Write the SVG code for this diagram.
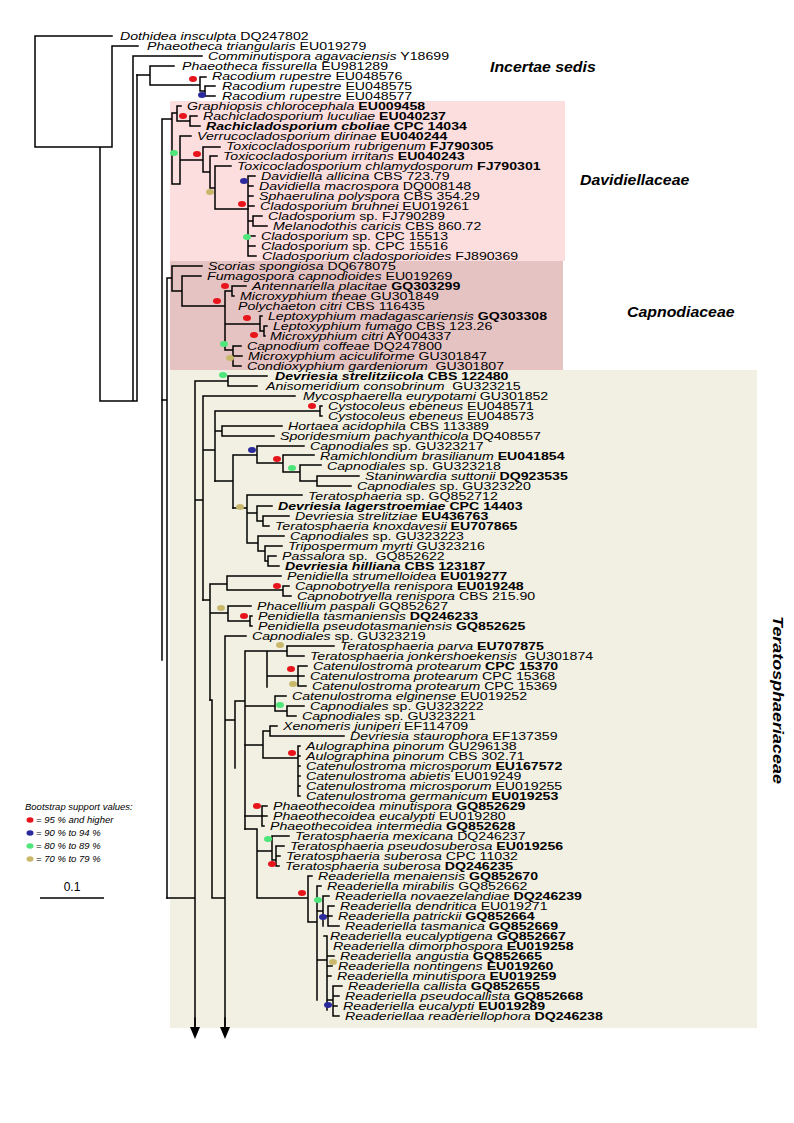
<svg xmlns="http://www.w3.org/2000/svg" width="794" height="1123" viewBox="0 0 794 1123">
<style>
.bg{fill:#ffffff}
.tr{fill:none;stroke:#000;stroke-width:1.5;stroke-linecap:square}
.lab text{font-family:"Liberation Sans",Arial,sans-serif;font-size:11.8px;fill:#000}
.i{font-style:italic}
.b{font-weight:bold}
.fam{font-family:"Liberation Sans",Arial,sans-serif;font-size:13.8px;font-weight:bold;font-style:italic;fill:#000}
.leg{font-family:"Liberation Sans",Arial,sans-serif;font-size:9.5px;font-style:italic;fill:#000}
.r{fill:#e8141c}.bl{fill:#2a2a9c}.g{fill:#4ee67a}.y{fill:#c9b86c}
</style>
<defs>
<marker id="ah" viewBox="0 0 12 10" refX="0" refY="5" markerWidth="12" markerHeight="10" markerUnits="userSpaceOnUse" orient="auto">
<path d="M0,0 L12,5 L0,10 Z" fill="#000"/>
</marker>
</defs>
<rect class="bg" x="0" y="0" width="794" height="1123"/>
<g id="boxes">
<rect id="box-davidiellaceae" x="170" y="101" width="395" height="160" fill="#fcdede"/>
<rect id="box-capnodiaceae" x="170" y="261" width="393" height="109" fill="#e6c3c3"/>
<rect id="box-teratosphaeriaceae" x="170" y="370" width="587" height="658" fill="#f2f0e2"/>
</g>
<g id="connectors" class="tr">
<path d="M35 36V147H112M35 36H112M112 46V147M112 46H138M100 147V401H137M133 56V401M137 75V401M133 56H202"/>
<path d="M137 75H150M150 66V85M150 66H174M150 85H200M200 77V91M200 77H206M200 91H205M205 86V96M205 86H215M205 96H215"/>
<path d="M162 119V660M162 119H172M172 113V184M172 113H177M177 106V121M177 106H181M177 121H190M190 116V126M190 116H197M190 126H200M172 184H180M180 136V184M180 136H191M180 160H203M203 147V172M203 147H220M203 172H210M210 156V188M210 156H217M210 188H215M215 166V209M215 166H231M215 209H248"/>
<path d="M248 176V256M248 176H255M248 186H253M248 196H253M248 206H254M248 221H253M253 216V226M253 216H262M253 226H267M248 236H255M248 246H255M248 256H256"/>
<path d="M167 278V898M162 400H167M167 278H172M172 266V291M172 266H202M172 291H182M182 276V306M182 276H201M182 306H225M225 291V350M225 291H232M232 286V296M232 286H246M232 296H234M225 324H260M260 316V331M260 316H262M260 331H264M264 326V336M264 326H267M264 336H265M225 350H233M233 346V366M233 346H241M233 356H242M233 366H241"/>
<path d="M167 898H195M195 381V1026M195 381H228M228 376V386M228 376H267M228 386H257M195 500H203M203 396V600M203 396H295M203 450H215M215 411V481M215 411H320M320 406V416M320 406H322M320 416H322M215 431H222M222 426V436M222 426H282M222 436H274"/>
<path d="M215 481H233M233 455V508M233 455H257M257 446V463M257 446H304M257 463H283M283 455V472M283 455H314M283 472H300M300 465V481M300 465H321M300 481H317M317 476V486M317 476H359M317 486H351"/>
<path d="M233 508H247M247 495V543M247 495H302M247 513H257M257 506V521M257 506H272M257 521H263M263 516V526M263 516H289M263 526H269M247 543H258M258 536V551M258 536H284M258 551H265M265 546V561M265 546H282M265 561H268M268 556V566M268 556H276M268 566H279"/>
<path d="M203 600H210M210 584V700M210 584H227M227 576V590M227 576H281M227 590H283M283 586V596M283 586H289M283 596H291M210 613H228M228 606V621M228 606H251M228 621H250M250 616V626M250 616H252M250 626H252"/>
<path d="M212 700V898M210 700H212M212 898H225M225 636V1026M225 636H246M225 720H235M235 701V768M235 701H245M245 651V829M245 651H267M267 651V687M267 651H287M287 646V656M287 646H334M287 656H304M267 676H298M298 666V686M298 666H307M298 676H304M298 686H306M245 706H275M275 696V711M275 696H286M275 711H287M287 706V716M287 706H304M287 716H296"/>
<path d="M245 745H263M263 731V758M263 731H270M270 726V736M270 726H277M270 736H344M263 758H298M298 746V796M298 746H300M298 756H300M298 766H300M298 776H300M298 786H300M298 796H300M245 816H262M262 806V826M262 806H267M262 816H267M262 826H264"/>
<path d="M245 829H257M257 829V898M257 851H272M272 836V860M272 836H289M272 860H276M276 846V866M276 846H284M276 856H280M276 866H279M257 898H308M308 876V922M308 876H312M308 922H317M317 886V1000M317 886H321M317 911H323M323 896V926M323 896H329M323 916H328M328 906V926M328 906H334M328 916H332M328 926H339M317 960H327M327 936V1010M327 936H324M327 946H327M327 956H334M327 966H332M327 976H331M327 1000H333M333 986V1016M333 986H342M333 996H339M333 1006H337M333 1016H339"/>
<path d="M195 1018V1027" marker-end="url(#ah)"/>
<path d="M225 1018V1027" marker-end="url(#ah)"/>
</g>
<g id="support">
<ellipse class="r" cx="193" cy="79" rx="4" ry="3"/>
<ellipse class="bl" cx="202" cy="95" rx="4" ry="3"/>
<ellipse class="r" cx="183" cy="116" rx="4" ry="3"/>
<ellipse class="g" cx="174" cy="153" rx="4" ry="3"/>
<ellipse class="r" cx="197" cy="154" rx="4" ry="3"/>
<ellipse class="bl" cx="244" cy="181" rx="4" ry="3"/>
<ellipse class="y" cx="210" cy="192" rx="4" ry="3"/>
<ellipse class="r" cx="242" cy="204" rx="4" ry="3"/>
<ellipse class="g" cx="247" cy="237" rx="4" ry="3"/>
<ellipse class="r" cx="225" cy="286" rx="4" ry="3"/>
<ellipse class="r" cx="217" cy="301" rx="4" ry="3"/>
<ellipse class="r" cx="247" cy="318" rx="4" ry="3"/>
<ellipse class="r" cx="254" cy="335" rx="4" ry="3"/>
<ellipse class="g" cx="224" cy="344" rx="4" ry="3"/>
<ellipse class="y" cx="230" cy="358" rx="4" ry="3"/>
<ellipse class="g" cx="223" cy="375" rx="4" ry="3"/>
<ellipse class="r" cx="312" cy="406" rx="4" ry="3"/>
<ellipse class="bl" cx="252" cy="450" rx="4" ry="3"/>
<ellipse class="r" cx="277" cy="459" rx="4" ry="3"/>
<ellipse class="g" cx="292" cy="468" rx="4" ry="3"/>
<ellipse class="y" cx="240" cy="507" rx="4" ry="3"/>
<ellipse class="r" cx="277" cy="586" rx="4" ry="3"/>
<ellipse class="y" cx="221" cy="608" rx="4" ry="3"/>
<ellipse class="r" cx="244" cy="616" rx="4" ry="3"/>
<ellipse class="y" cx="280" cy="645" rx="4" ry="3"/>
<ellipse class="r" cx="291" cy="669" rx="4" ry="3"/>
<ellipse class="y" cx="293" cy="684" rx="4" ry="3"/>
<ellipse class="g" cx="280" cy="705" rx="4" ry="3"/>
<ellipse class="r" cx="292" cy="753" rx="4" ry="3"/>
<ellipse class="r" cx="257" cy="806" rx="4" ry="3"/>
<ellipse class="g" cx="268" cy="839" rx="4" ry="3"/>
<ellipse class="r" cx="272" cy="864" rx="4" ry="3"/>
<ellipse class="r" cx="302" cy="893" rx="4" ry="3"/>
<ellipse class="g" cx="318" cy="900" rx="4" ry="3"/>
<ellipse class="bl" cx="323" cy="917" rx="4" ry="3"/>
<ellipse class="y" cx="333" cy="962" rx="4" ry="3"/>
<ellipse class="bl" cx="328" cy="1005" rx="4" ry="3"/>
</g>
<g id="leaves" class="lab" transform="scale(1.2,1)">
<text x="100" y="40"><tspan class="i">Dothidea insculpta</tspan> DQ247802</text>
<text x="122.5" y="50"><tspan class="i">Phaeotheca triangularis</tspan> EU019279</text>
<text x="173.3" y="60"><tspan class="i">Comminutispora agavaciensis</tspan> Y18699</text>
<text x="151.7" y="70"><tspan class="i">Phaeotheca fissurella</tspan> EU981289</text>
<text x="176.7" y="80"><tspan class="i">Racodium rupestre</tspan> EU048576</text>
<text x="185" y="90"><tspan class="i">Racodium rupestre</tspan> EU048575</text>
<text x="185" y="100"><tspan class="i">Racodium rupestre</tspan> EU048577</text>
<text x="155.8" y="110"><tspan class="i">Graphiopsis chlorocephala</tspan> <tspan class="b">EU009458</tspan></text>
<text x="169.2" y="120"><tspan class="i">Rachicladosporium luculiae</tspan> <tspan class="b">EU040237</tspan></text>
<text x="171.7" y="130" class="b"><tspan class="i">Rachicladosporium cboliae</tspan> CPC 14034</text>
<text x="164.2" y="140"><tspan class="i">Verrucocladosporium dirinae</tspan> <tspan class="b">EU040244</tspan></text>
<text x="188.3" y="150"><tspan class="i">Toxicocladosporium rubrigenum</tspan> <tspan class="b">FJ790305</tspan></text>
<text x="185.8" y="160"><tspan class="i">Toxicocladosporium irritans</tspan> <tspan class="b">EU040243</tspan></text>
<text x="197.5" y="170"><tspan class="i">Toxicocladosporium chlamydosporum</tspan> <tspan class="b">FJ790301</tspan></text>
<text x="217.5" y="180"><tspan class="i">Davidiella allicina</tspan> CBS 723.79</text>
<text x="215.8" y="190"><tspan class="i">Davidiella macrospora</tspan> DQ008148</text>
<text x="215.8" y="200"><tspan class="i">Sphaerulina polyspora</tspan> CBS 354.29</text>
<text x="216.7" y="210"><tspan class="i">Cladosporium bruhnei</tspan> EU019261</text>
<text x="223.3" y="220"><tspan class="i">Cladosporium</tspan> sp. FJ790289</text>
<text x="227.5" y="230"><tspan class="i">Melanodothis caricis</tspan> CBS 860.72</text>
<text x="217.5" y="240"><tspan class="i">Cladosporium</tspan> sp. CPC 15513</text>
<text x="217.5" y="250"><tspan class="i">Cladosporium</tspan> sp. CPC 15516</text>
<text x="218.3" y="260"><tspan class="i">Cladosporium cladosporioides</tspan> FJ890369</text>
<text x="173.3" y="270"><tspan class="i">Scorias spongiosa</tspan> DQ678075</text>
<text x="172.5" y="280"><tspan class="i">Fumagospora capnodioides</tspan> EU019269</text>
<text x="210" y="290"><tspan class="i">Antennariella placitae</tspan> <tspan class="b">GQ303299</tspan></text>
<text x="200" y="300"><tspan class="i">Microxyphium theae</tspan> GU301849</text>
<text x="198.3" y="310"><tspan class="i">Polychaeton citri</tspan> CBS 116435</text>
<text x="223.3" y="320"><tspan class="i">Leptoxyphium madagascariensis</tspan> <tspan class="b">GQ303308</tspan></text>
<text x="227.5" y="330"><tspan class="i">Leptoxyphium fumago</tspan> CBS 123.26</text>
<text x="225" y="340"><tspan class="i">Microxyphium citri</tspan> AY004337</text>
<text x="205.8" y="350"><tspan class="i">Capnodium coffeae</tspan> DQ247800</text>
<text x="206.7" y="360"><tspan class="i">Microxyphium aciculiforme</tspan> GU301847</text>
<text x="205.8" y="370" xml:space="preserve"><tspan class="i">Condioxyphium gardeniorum</tspan>  GU301807</text>
<text x="229.2" y="380" class="b"><tspan class="i">Devriesia strelitziicola</tspan> CBS 122480</text>
<text x="221.7" y="390" xml:space="preserve"><tspan class="i">Anisomeridium consobrinum</tspan>  GU323215</text>
<text x="252.5" y="400"><tspan class="i">Mycosphaerella eurypotami</tspan> GU301852</text>
<text x="273.3" y="410"><tspan class="i">Cystocoleus ebeneus</tspan> EU048571</text>
<text x="273.3" y="420"><tspan class="i">Cystocoleus ebeneus</tspan> EU048573</text>
<text x="240" y="430"><tspan class="i">Hortaea acidophila</tspan> CBS 113389</text>
<text x="233.3" y="440"><tspan class="i">Sporidesmium pachyanthicola</tspan> DQ408557</text>
<text x="258.3" y="450"><tspan class="i">Capnodiales</tspan> sp. GU323217</text>
<text x="266.7" y="460"><tspan class="i">Ramichlondium brasilianum</tspan> <tspan class="b">EU041854</tspan></text>
<text x="272.5" y="470"><tspan class="i">Capnodiales</tspan> sp. GU323218</text>
<text x="304.2" y="480"><tspan class="i">Staninwardia suttonii</tspan> <tspan class="b">DQ923535</tspan></text>
<text x="297.5" y="490"><tspan class="i">Capnodiales</tspan> sp. GU323220</text>
<text x="256.7" y="500"><tspan class="i">Teratosphaeria</tspan> sp. GQ852712</text>
<text x="231.7" y="510" class="b"><tspan class="i">Devriesia lagerstroemiae</tspan> CPC 14403</text>
<text x="245.8" y="520"><tspan class="i">Devriesia strelitziae</tspan> <tspan class="b">EU436763</tspan></text>
<text x="229.2" y="530"><tspan class="i">Teratosphaeria knoxdavesii</tspan> <tspan class="b">EU707865</tspan></text>
<text x="241.7" y="540"><tspan class="i">Capnodiales</tspan> sp. GU323223</text>
<text x="240" y="550"><tspan class="i">Tripospermum myrti</tspan> GU323216</text>
<text x="235" y="560" xml:space="preserve"><tspan class="i">Passalora</tspan> sp.  GQ852622</text>
<text x="237.5" y="570" class="b"><tspan class="i">Devriesia hilliana</tspan> CBS 123187</text>
<text x="239.2" y="580"><tspan class="i">Penidiella strumelloidea</tspan> <tspan class="b">EU019277</tspan></text>
<text x="245.8" y="590"><tspan class="i">Capnobotryella renispora</tspan> <tspan class="b">EU019248</tspan></text>
<text x="247.5" y="600"><tspan class="i">Capnobotryella renispora</tspan> CBS 215.90</text>
<text x="214.2" y="610"><tspan class="i">Phacellium paspali</tspan> GQ852627</text>
<text x="215" y="620"><tspan class="i">Penidiella tasmaniensis</tspan> <tspan class="b">DQ246233</tspan></text>
<text x="215" y="630"><tspan class="i">Penidiella pseudotasmaniensis</tspan> <tspan class="b">GQ852625</tspan></text>
<text x="210" y="640"><tspan class="i">Capnodiales</tspan> sp. GU323219</text>
<text x="283.3" y="650"><tspan class="i">Teratosphaeria parva</tspan> <tspan class="b">EU707875</tspan></text>
<text x="258.3" y="660" xml:space="preserve"><tspan class="i">Teratosphaeria jonkershoekensis</tspan>  GU301874</text>
<text x="260.8" y="670"><tspan class="i">Catenulostroma protearum</tspan> <tspan class="b">CPC 15370</tspan></text>
<text x="258.3" y="680"><tspan class="i">Catenulostroma protearum</tspan> CPC 15368</text>
<text x="260" y="690"><tspan class="i">Catenulostroma protearum</tspan> CPC 15369</text>
<text x="243.3" y="700"><tspan class="i">Catenulostroma elginense</tspan> EU019252</text>
<text x="258.3" y="710"><tspan class="i">Capnodiales</tspan> sp. GU323222</text>
<text x="251.7" y="720"><tspan class="i">Capnodiales</tspan> sp. GU323221</text>
<text x="235.8" y="730"><tspan class="i">Xenomeris juniperi</tspan> EF114709</text>
<text x="291.7" y="740"><tspan class="i">Devriesia staurophora</tspan> EF137359</text>
<text x="255" y="750"><tspan class="i">Aulographina pinorum</tspan> GU296138</text>
<text x="255" y="760"><tspan class="i">Aulographina pinorum</tspan> CBS 302.71</text>
<text x="255" y="770"><tspan class="i">Catenulostroma microsporum</tspan> <tspan class="b">EU167572</tspan></text>
<text x="255" y="780"><tspan class="i">Catenulostroma abietis</tspan> EU019249</text>
<text x="255" y="790"><tspan class="i">Catenulostroma microsporum</tspan> EU019255</text>
<text x="255" y="800"><tspan class="i">Catenulostroma germanicum</tspan> <tspan class="b">EU019253</tspan></text>
<text x="227.5" y="810"><tspan class="i">Phaeothecoidea minutispora</tspan> <tspan class="b">GQ852629</tspan></text>
<text x="227.5" y="820"><tspan class="i">Phaeothecoidea eucalypti</tspan> EU019280</text>
<text x="225" y="830"><tspan class="i">Phaeothecoidea intermedia</tspan> <tspan class="b">GQ852628</tspan></text>
<text x="245.8" y="840"><tspan class="i">Teratosphaeria mexicana</tspan> DQ246237</text>
<text x="241.7" y="850"><tspan class="i">Teratosphaeria pseudosuberosa</tspan> <tspan class="b">EU019256</tspan></text>
<text x="238.3" y="860"><tspan class="i">Teratosphaeria suberosa</tspan> CPC 11032</text>
<text x="237.5" y="870"><tspan class="i">Teratosphaeria suberosa</tspan> <tspan class="b">DQ246235</tspan></text>
<text x="265" y="880"><tspan class="i">Readeriella menaiensis</tspan> <tspan class="b">GQ852670</tspan></text>
<text x="272.5" y="890"><tspan class="i">Readeriella mirabilis</tspan> GQ852662</text>
<text x="279.2" y="900"><tspan class="i">Readeriella novaezelandiae</tspan> <tspan class="b">DQ246239</tspan></text>
<text x="283.3" y="910"><tspan class="i">Readeriella dendritica</tspan> EU019271</text>
<text x="281.7" y="920"><tspan class="i">Readeriella patrickii</tspan> <tspan class="b">GQ852664</tspan></text>
<text x="287.5" y="930"><tspan class="i">Readeriella tasmanica</tspan> <tspan class="b">GQ852669</tspan></text>
<text x="275" y="940"><tspan class="i">Readeriella eucalyptigena</tspan> <tspan class="b">GQ852667</tspan></text>
<text x="277.5" y="950"><tspan class="i">Readeriella dimorphospora</tspan> <tspan class="b">EU019258</tspan></text>
<text x="283.3" y="960"><tspan class="i">Readeriella angustia</tspan> <tspan class="b">GQ852665</tspan></text>
<text x="281.7" y="970"><tspan class="i">Readeriella nontingens</tspan> <tspan class="b">EU019260</tspan></text>
<text x="280.8" y="980"><tspan class="i">Readeriella minutispora</tspan> <tspan class="b">EU019259</tspan></text>
<text x="290" y="990"><tspan class="i">Readeriella callista</tspan> <tspan class="b">GQ852655</tspan></text>
<text x="287.5" y="1000"><tspan class="i">Readeriella pseudocallista</tspan> <tspan class="b">GQ852668</tspan></text>
<text x="285.8" y="1010"><tspan class="i">Readeriella eucalypti</tspan> <tspan class="b">EU019289</tspan></text>
<text x="287.5" y="1020"><tspan class="i">Readeriellaa readeriellophora</tspan> <tspan class="b">DQ246238</tspan></text>
</g>
<g id="families">
<text class="fam" transform="translate(490,72) scale(1.15,1)">Incertae sedis</text>
<text class="fam" transform="translate(580,185) scale(1.15,1)">Davidiellaceae</text>
<text class="fam" transform="translate(627,317) scale(1.15,1)">Capnodiaceae</text>
<text class="fam" transform="translate(773,700) rotate(90) scale(1.3,1)" text-anchor="middle">Teratosphaeriaceae</text>
</g>
<g id="legend">
<text class="leg" x="25" y="810">Bootstrap support values:</text>
<ellipse class="r" cx="30" cy="820" rx="3.5" ry="2.8"/>
<ellipse class="bl" cx="30" cy="833" rx="3.5" ry="2.8"/>
<ellipse class="g" cx="30" cy="846" rx="3.5" ry="2.8"/>
<ellipse class="y" cx="30" cy="859" rx="3.5" ry="2.8"/>
<text class="leg" x="36" y="823">= 95 % and higher</text>
<text class="leg" x="36" y="836">= 90 % to 94 %</text>
<text class="leg" x="36" y="849">= 80 % to 89 %</text>
<text class="leg" x="36" y="862">= 70 % to 79 %</text>
</g>
<g id="scalebar">
<path d="M40 898H104" stroke="#000" stroke-width="1.3"/>
<text x="72" y="891" text-anchor="middle" font-family="Liberation Sans, Arial, sans-serif" font-size="12px">0.1</text>
</g>
</svg>
